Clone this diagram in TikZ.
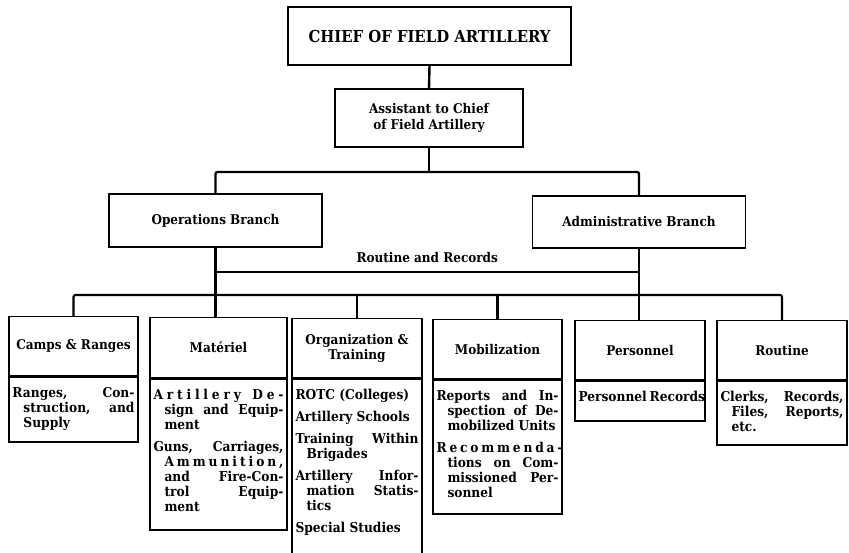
\documentclass[tikz,border=0pt]{standalone}
\usepackage{fontspec}
\setmainfont{DejaVu Serif Condensed}
\newcommand\itembody[3]{%
  \parbox[t][#2][t]{\dimexpr#1-7pt\relax}{%
    \parskip=7pt\relax
    \vspace*{3pt}%
    \hyphenpenalty=10000 \exhyphenpenalty=10000
    \hbadness=10000 \hfuzz=8pt
    \everypar{\hangindent=11pt\hangafter=1}%
    #3}}
\begin{document}
\begin{tikzpicture}[x=1pt,y=-1pt,
  box/.style={draw, line width=1.3pt, inner sep=2pt, align=center,
    font=\bfseries\fontsize{13.4}{15.5}\selectfont},
  head/.style={box, anchor=north, minimum height=59pt},
  body/.style={draw, line width=1.3pt, inner xsep=3.5pt, inner ysep=0pt,
    anchor=north, font=\bfseries\fontsize{13.6}{15}\selectfont},
  link/.style={line width=2.4pt},
  bar/.style={line width=2.1pt, rounded corners=2pt},
  recline/.style={line width=1.8pt}]
\useasboundingbox (0,0) rectangle (849,552);

% upper chain of command
\node[box, minimum width=283pt, minimum height=58pt,
  font=\bfseries\fontsize{16.5}{18}\selectfont] (chief) at (429.5,36) {CHIEF OF FIELD ARTILLERY};
\node[box, minimum width=188pt, minimum height=58pt] (asst) at (429,118)
  {Assistant to Chief\\of Field Artillery};
\node[box, minimum width=213pt, minimum height=53pt] (ops) at (215.5,220.5) {Operations Branch};
\node[box, minimum width=213pt, minimum height=52pt] (admin) at (639,222) {Administrative Branch};

% sections: heading boxes
\node[head, minimum width=129pt] (camps) at (73.5,316) {Camps \& Ranges};
\node[head, minimum width=137pt, minimum height=60pt] (mat) at (218.5,317) {Matériel};
\node[head, minimum width=130pt] (org) at (357,318) {Organization \&\\Training};
\node[head, minimum width=129pt] (mob) at (497.5,319) {Mobilization};
\node[head, minimum width=130pt] (pers) at (640,320) {Personnel};
\node[head, minimum width=130pt] (rout) at (782,320) {Routine};

% sections: duty boxes
\node[body] (camps-b) at (camps.south) {\itembody{129pt}{65pt}{%
  Ranges, Con-\linebreak struction, and\linebreak Supply}};
\node[body] (mat-b) at (mat.south) {\itembody{137pt}{151pt}{%
  \makebox[\linewidth][s]{A r t i l l e r y\ \ \ D e -}\\sign and Equip-\linebreak ment\par
  Guns, Carriages,\linebreak
  \makebox[\dimexpr\linewidth-11pt\relax][s]{A m m u n i t i o n ,}\\and Fire-Con-\linebreak
  trol Equip-\linebreak ment}};
\node[body] (org-b) at (org.south) {\itembody{130pt}{190pt}{%
  ROTC (Colleges)\par
  Artillery Schools\par
  Training Within\linebreak Brigades\par
  Artillery Infor-\linebreak mation Statis-\linebreak tics\par
  Special Studies}};
\node[body] (mob-b) at (mob.south) {\itembody{129pt}{134pt}{%
  Reports and In-\linebreak spection of De-\linebreak mobilized Units\par
  \makebox[\linewidth][s]{R e c o m m e n d a -}\\tions on Com-\linebreak
  missioned Per-\linebreak sonnel}};
\node[body] (pers-b) at (pers.south) {\itembody{130pt}{40pt}{%
  \makebox[\linewidth][s]{Personnel Records}}};
\node[body] (rout-b) at (rout.south) {\itembody{130pt}{64pt}{%
  Clerks, Records,\linebreak Files, Reports,\linebreak etc.}};

% rows of the connecting lines
\coordinate (toprow) at (0,172);
\coordinate (recrow) at (0,272);
\coordinate (botrow) at (0,295);

\draw[link] (chief.south) -- (asst.north);
\draw[link] (asst.south) -- (asst.south |- toprow);
\draw[link, rounded corners=2pt] (ops.north) -- (ops.north |- toprow)
  -- (admin.north |- toprow) -- (admin.north);
\draw[link] (ops.south) -- (ops.south |- mat.north);
\draw[link] (admin.south) -- (admin.south |- pers.north);
\draw[recline] (ops.south |- recrow) -- (admin.south |- recrow)
  node[midway, above=5pt, font=\bfseries\fontsize{13.4}{15.5}\selectfont] (rr) {Routine and Records};
\draw[bar] (camps.north) -- (camps.north |- botrow) -- (rout.north |- botrow) -- (rout.north);
\draw[link] (org.north) -- (org.north |- botrow);
\draw[link] (mob.north) -- (mob.north |- botrow);
\end{tikzpicture}
\end{document}
